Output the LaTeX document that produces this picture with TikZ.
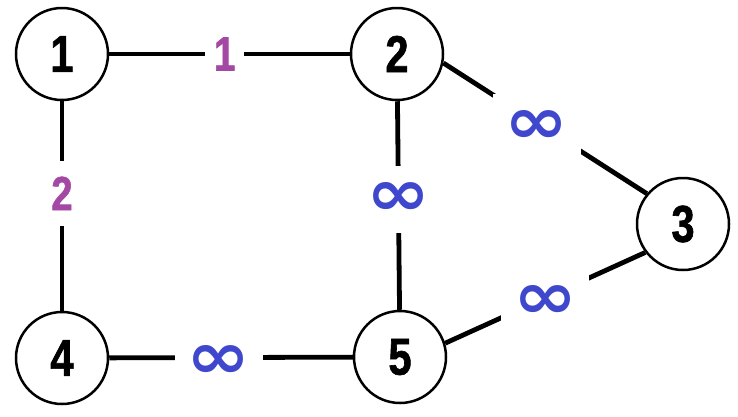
\documentclass[tikz,border=0pt]{standalone}
\usepackage{fontspec}
\usepackage{graphicx}
\newfontfamily\numfont[FakeStretch=0.8,FakeBold=1.2]{Liberation Sans}
\newfontfamily\symfont{DejaVu Sans}
\definecolor{wpurple}{RGB}{163,73,164}
\definecolor{wblue}{RGB}{63,72,204}
\newcommand{\infmark}{\resizebox{64pt}{33pt}{\symfont\bfseries ∞}}

\begin{document}
\begin{tikzpicture}[x=1pt, y=-1pt,
  vertex/.style={circle, draw, line width=2.5pt, minimum size=92pt, inner sep=0pt,
    font=\fontsize{52pt}{52pt}\numfont\bfseries},
  edge/.style={line width=4.8pt},
  weight/.style={fill=white, text=wpurple, inner xsep=9pt, inner ysep=16pt,
    font=\fontsize{48pt}{48pt}\numfont\bfseries},
  infw/.style={fill=white, text=wblue, inner xsep=12pt, inner ysep=17pt, yshift=-4pt}]
\useasboundingbox[fill=white] (0,0) rectangle (738,416);
%%%%% Vertices %%%%%
\node[vertex] (n1) at (62,54) {1};
\node[vertex] (n2) at (397,54) {2};
\node[vertex] (n3) at (683,224) {3};
\node[vertex] (n4) at (62,358) {4};
\node[vertex] (n5) at (400,357) {5};
%%%%% Edges %%%%%
\draw[edge] (n1) -- node[weight, pos=0.48] (w12) {1} (n2);
\draw[edge] (n1) -- node[weight, pos=0.44] (w14) {2} (n4);
\draw[edge] (n2) -- node[infw, pos=0.45] (w25) {\infmark} (n5);
\draw[edge] (n4) -- node[infw, pos=0.45] (w45) {\infmark} (n5);
\draw[edge] (n2.-11) -- node[infw, pos=0.46] (w23) {\infmark} (n3.140);
\draw[edge] (n5.17) -- node[infw, pos=0.5] (w35) {\infmark} (n3.-143);
\end{tikzpicture}
\end{document}
